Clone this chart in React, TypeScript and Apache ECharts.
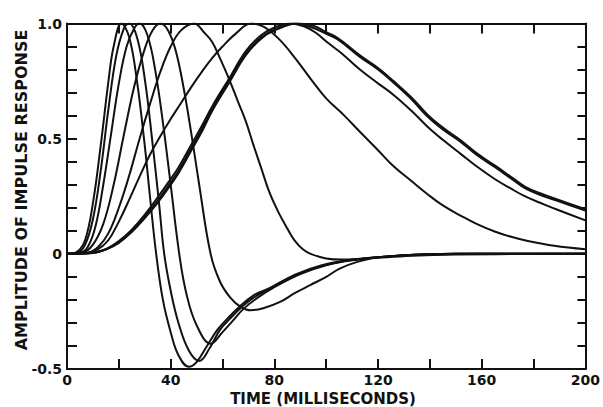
import React, { useEffect, useRef } from "react";
import * as echarts from "echarts";

// x tick labels (ms) and y tick labels
const xTickLabels = ["0", "40", "80", "120", "160", "200"];
const yTickLabels = ["-0.5", "0", "0.5", "1.0"];

// impulse responses: [time ms, amplitude]
const curve1: [number, number][] = [
  [0, 0], [4, 0.01], [7, 0.06], [10, 0.22], [13, 0.47], [16, 0.75], [18, 0.9], [21, 1.0],
  [24, 0.94], [27, 0.75], [30, 0.47], [32, 0.25], [34.4, 0], [37, -0.2], [40, -0.34],
  [43, -0.44], [47, -0.49], [50, -0.47], [54, -0.4], [58, -0.33], [62, -0.28], [66, -0.235],
  [72, -0.18], [78, -0.15], [88, -0.09], [98, -0.05], [110, -0.025], [125, -0.01], [150, 0], [200, 0],
];
const curve2: [number, number][] = [
  [0, 0], [4, 0.005], [7, 0.04], [10, 0.15], [13, 0.36], [16, 0.63], [19, 0.86], [22, 0.98],
  [24, 1.0], [27, 0.94], [30, 0.76], [33, 0.48], [35.5, 0.22], [37.5, 0], [40, -0.16],
  [43, -0.3], [47, -0.42], [51, -0.465], [55, -0.41], [59, -0.33], [63, -0.28], [67, -0.235],
  [72, -0.19], [80, -0.14], [90, -0.085], [100, -0.048], [110, -0.027], [125, -0.01], [150, 0], [200, 0],
];
const curve3: [number, number][] = [
  [0, 0], [5, 0.005], [8, 0.03], [11, 0.12], [14, 0.3], [17, 0.52], [20, 0.74], [23, 0.9],
  [26, 0.98], [28, 1.0], [31, 0.95], [34, 0.8], [37, 0.57], [40, 0.3], [43.3, 0], [46, -0.17],
  [50, -0.31], [55.5, -0.39], [60, -0.34], [64, -0.29], [68, -0.24], [73, -0.195], [80, -0.145],
  [90, -0.088], [100, -0.05], [110, -0.028], [125, -0.01], [150, 0], [200, 0],
];
const curve4: [number, number][] = [
  [0, 0], [6, 0.005], [10, 0.04], [14, 0.13], [18, 0.3], [22, 0.52], [26, 0.73], [30, 0.89],
  [33, 0.97], [36, 1.0], [39, 0.97], [42, 0.88], [45, 0.72], [48, 0.52], [51, 0.3], [55.4, 0],
  [59, -0.12], [63, -0.19], [67, -0.23], [71, -0.245], [76, -0.235], [82, -0.21], [88, -0.17],
  [94, -0.135], [100, -0.1], [105, -0.065], [112, -0.035], [120, -0.015], [135, -0.005], [160, 0], [200, 0],
];
const curve5: [number, number][] = [
  [0, 0], [8, 0.005], [12, 0.03], [16, 0.09], [20, 0.2], [24, 0.34], [28, 0.5], [32, 0.65],
  [36, 0.79], [40, 0.9], [44, 0.97], [49, 1.0], [53, 0.96], [56, 0.92], [59, 0.85], [62.5, 0.76],
  [66, 0.66], [69, 0.575], [72, 0.47], [75, 0.37], [78, 0.27], [81.6, 0.18], [85, 0.11],
  [88, 0.055], [91, 0.02], [94, 0], [100, -0.02], [106, -0.025], [115, -0.02], [130, -0.01],
  [150, -0.003], [200, 0],
];
const curve6: [number, number][] = [
  [0, 0], [8, 0.005], [12, 0.02], [16, 0.06], [20, 0.14], [24, 0.235], [28, 0.335], [32, 0.43],
  [36, 0.51], [40, 0.585], [44, 0.655], [48, 0.725], [52, 0.79], [56, 0.85], [60, 0.9], [65, 0.955],
  [71, 1.0], [76, 0.985], [82, 0.93], [88, 0.85], [94, 0.76], [100, 0.675], [107, 0.6],
  [113, 0.53], [120, 0.45], [126, 0.38], [133, 0.315], [139, 0.26], [145, 0.21], [152, 0.165],
  [158, 0.13], [165, 0.097], [171, 0.075], [177, 0.058], [188, 0.035], [200, 0.02],
];
const curve7: [number, number][] = [
  [0, 0], [10, 0.005], [15, 0.02], [20, 0.055], [25, 0.105], [30, 0.17], [35, 0.245],
  [40, 0.325], [43, 0.375], [48, 0.475], [52, 0.555], [56, 0.64], [62.5, 0.76], [69, 0.88],
  [75, 0.95], [80.5, 0.985], [86, 1.0], [92, 0.985], [96, 0.96], [100.8, 0.915], [106, 0.87],
  [113, 0.8], [120, 0.74], [126, 0.69], [133, 0.62], [139, 0.553], [145, 0.495], [152, 0.433],
  [158, 0.38], [165, 0.325], [171, 0.285], [177, 0.248], [184, 0.215], [190, 0.188], [200, 0.145],
];
const curve8: [number, number][] = [
  [0, 0], [10, 0.005], [15, 0.02], [20, 0.05], [25, 0.1], [30, 0.16], [35, 0.23], [40, 0.31],
  [43, 0.36], [48, 0.46], [52, 0.54], [56, 0.63], [62.5, 0.75], [69, 0.87], [75, 0.94],
  [80.5, 0.975], [88, 1.0], [94, 0.985], [100, 0.955], [104.6, 0.93], [113, 0.855], [120, 0.8],
  [126, 0.743], [133, 0.67], [139, 0.597], [145, 0.54], [152, 0.485], [158, 0.43], [165, 0.377],
  [171, 0.33], [177, 0.283], [184, 0.25], [190, 0.227], [200, 0.188],
];
const curve9: [number, number][] = [
  [0, 0], [10, 0.004], [15, 0.018], [20, 0.047], [25, 0.095], [30, 0.155], [35, 0.222],
  [40, 0.3], [43, 0.35], [48, 0.45], [52, 0.53], [56, 0.62], [62.5, 0.742], [69, 0.862],
  [75, 0.935], [80.5, 0.972], [89, 1.0], [95, 0.99], [100, 0.962], [104.6, 0.936], [113, 0.862],
  [120, 0.807], [126, 0.75], [133, 0.678], [139, 0.605], [145, 0.548], [152, 0.492], [158, 0.437],
  [165, 0.384], [171, 0.337], [177, 0.29], [184, 0.257], [190, 0.233], [200, 0.194],
];

const curves = [curve1, curve2, curve3, curve4, curve5, curve6, curve7, curve8, curve9];

const FONT = "DejaVu Sans";

export default function App() {
  const ref = useRef<HTMLDivElement>(null);
  useEffect(() => {
    if (!ref.current) return;
    const chart = echarts.init(ref.current, null, { renderer: "svg" });
    const xFmt = (v: number) => {
      const i = xTickLabels.indexOf(String(Math.round(v)));
      return i >= 0 ? xTickLabels[i] : "";
    };
    const yFmt = (v: number) => {
      const r = Math.round(v * 10);
      if (r === -5) return yTickLabels[0];
      if (r === 0) return yTickLabels[1];
      if (r === 5) return yTickLabels[2];
      if (r === 10) return yTickLabels[3];
      return "";
    };
    const axisLine = { show: true, onZero: false, lineStyle: { color: "#111", width: 2 } };
    chart.setOption({
      animation: false,
      backgroundColor: "#ffffff",
      grid: { left: 67, right: 14, top: 23.5, bottom: 38 },
      xAxis: [
        {
          type: "value", min: 0, max: 200, interval: 20, position: "bottom",
          axisLine, splitLine: { show: false },
          axisTick: { show: true, inside: true, length: 10, lineStyle: { color: "#111", width: 2 } },
          axisLabel: { formatter: xFmt, margin: 4, color: "#111", fontFamily: FONT, fontWeight: "bold", fontSize: 14 },
        },
        {
          type: "value", min: 0, max: 200, interval: 20, position: "top",
          axisLine, splitLine: { show: false },
          axisTick: { show: true, inside: true, length: 10, lineStyle: { color: "#111", width: 2 } },
          axisLabel: { show: false },
        },
      ],
      yAxis: [
        {
          type: "value", min: -0.5, max: 1.0, interval: 0.1, position: "left",
          axisLine, splitLine: { show: false },
          axisTick: { show: true, inside: true, length: 10, lineStyle: { color: "#111", width: 2 } },
          axisLabel: { formatter: yFmt, margin: 5, color: "#111", fontFamily: FONT, fontWeight: "bold", fontSize: 14 },
        },
        {
          type: "value", min: -0.5, max: 1.0, interval: 0.1, position: "right",
          axisLine, splitLine: { show: false },
          axisTick: { show: true, inside: true, length: 8, lineStyle: { color: "#111", width: 2 } },
          axisLabel: { show: false },
        },
      ],
      graphic: [
        {
          type: "text", x: 323, y: 399,
          style: { text: "TIME (MILLISECONDS)", fill: "#111", font: `bold 15px "${FONT}"`, textAlign: "center", textVerticalAlign: "middle" },
        },
        {
          type: "text", x: 21, y: 190, rotation: Math.PI / 2,
          style: { text: "AMPLITUDE OF IMPULSE RESPONSE", fill: "#111", font: `bold 16px "${FONT}"`, textAlign: "center", textVerticalAlign: "middle" },
        },
      ],
      series: curves.map((c) => ({
        type: "line", data: c, xAxisIndex: 0, yAxisIndex: 0, showSymbol: false, smooth: 0.4,
        lineStyle: { color: "#111", width: 2 }, silent: true,
      })),
    });
    return () => chart.dispose();
  }, []);
  return <div ref={ref} style={{ position: "fixed", left: 0, top: 0, width: 603, height: 407 }} />;
}
